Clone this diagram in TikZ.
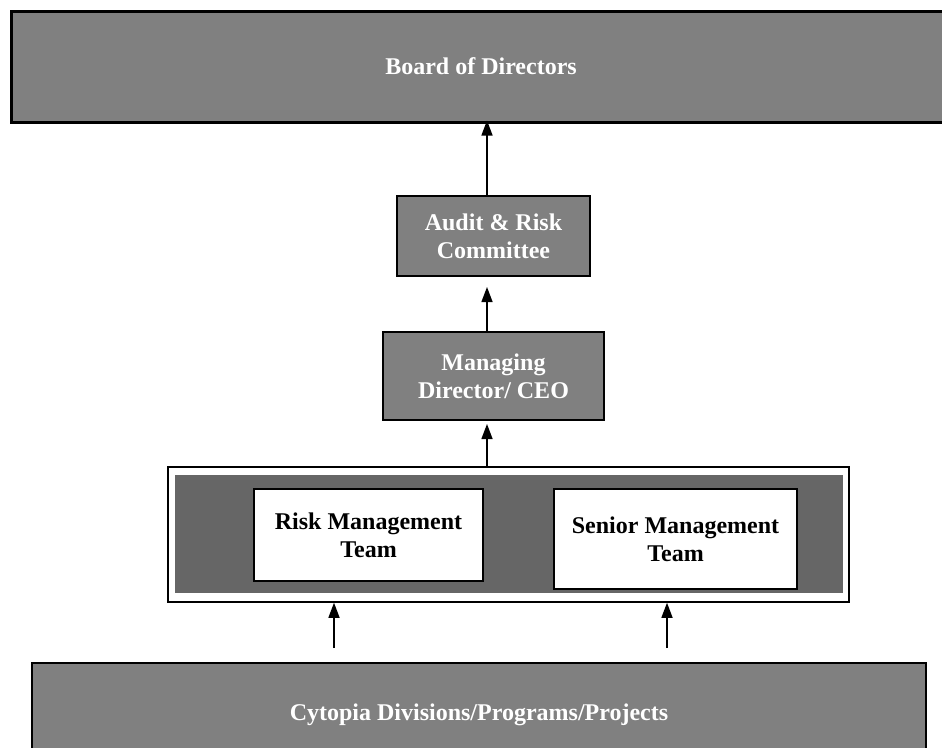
\documentclass[tikz,border=0pt]{standalone}
\usepackage{fontspec}
\setmainfont{Liberation Serif}
\usetikzlibrary{arrows.meta}
\definecolor{boxgray}{HTML}{808080}
\definecolor{darkgray}{HTML}{666666}
\tikzset{
  x=1pt, y=-1pt,
  txt/.style={font=\fontsize{24}{28}\selectfont\bfseries, align=center},
  graybox/.style={draw=black, fill=boxgray, line width=2pt, inner sep=0pt, txt, text=white},
  whitebox/.style={draw=black, fill=white, line width=2pt, inner sep=0pt, txt, text=black},
  arr/.style={line width=1.4pt, -{Triangle[width=11pt,length=15pt]}},
}
\begin{document}
\begin{tikzpicture}
\useasboundingbox (0,0) rectangle (942,747);
% Board
\node[graybox, line width=3pt, minimum width=940pt, minimum height=111pt] (board) at (481,66.5) {Board of Directors};
% Audit
\node[graybox, minimum width=193pt, minimum height=80pt] (audit) at (493.5,236) {Audit \& Risk\\Committee};
% Managing
\node[graybox, minimum width=221pt, minimum height=88pt] (mgr) at (493.5,376) {Managing\\Director/ CEO};
% Container
\node[draw=black, fill=white, line width=1.5pt, inner sep=0pt, minimum width=681pt, minimum height=135pt] (container) at (508.5,534.5) {};
\node[fill=darkgray, inner sep=0pt, minimum width=668pt, minimum height=118pt] (inner) at (509,534) {};
\node[whitebox, minimum width=229pt, minimum height=92pt] (risk) at (368.5,535) {Risk Management\\Team};
\node[whitebox, minimum width=243pt, minimum height=100pt] (senior) at (675.5,539) {Senior Management\\Team};
% Bottom
\node[graybox, minimum width=894pt, minimum height=104pt] (cyto) at (479,715) {Cytopia Divisions/Programs/Projects};
% axis coordinates
\coordinate (axis) at (487,0);
\coordinate (s1) at (334,648);
\coordinate (s2) at (667,648);
% arrows
\draw[arr] (audit.north -| axis) -- ([yshift=3pt]board.south -| axis);
\draw[arr] (mgr.north -| axis) -- ([yshift=-10pt]audit.south -| axis);
\draw[arr] (container.north -| axis) -- ([yshift=-3pt]mgr.south -| axis);
\draw[arr] (s1) -- (s1 |- container.south);
\draw[arr] (s2) -- (s2 |- container.south);
\end{tikzpicture}
\end{document}
